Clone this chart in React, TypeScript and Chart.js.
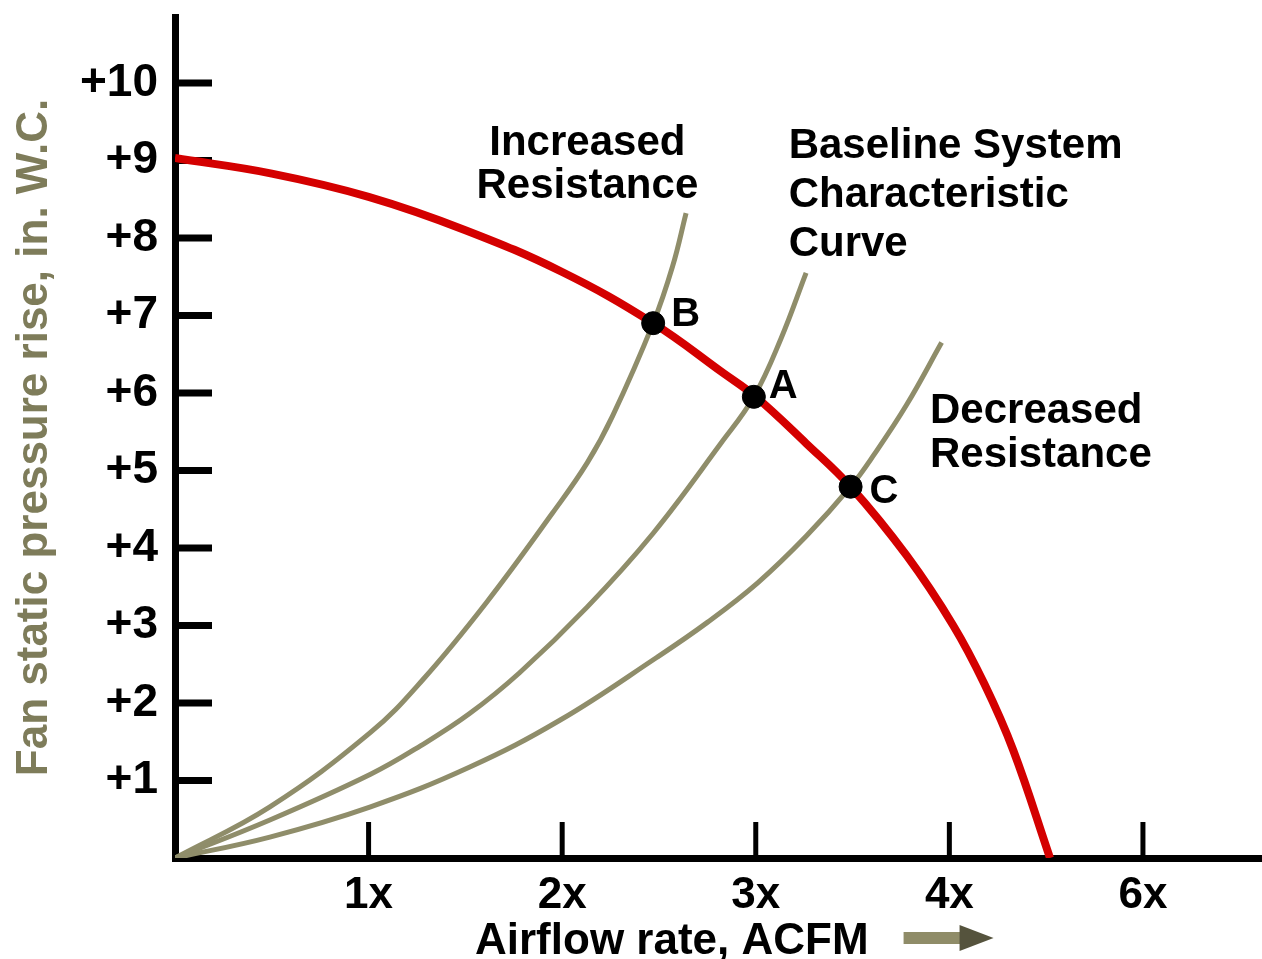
import React, { useEffect, useRef } from 'react';
import { Chart, registerables } from 'chart.js';

Chart.register(...registerables);

// ---- data ----
const xTickValues = [1, 2, 3, 4, 5];
const xTickLabels = ['1x', '2x', '3x', '4x', '6x'];
const yTickValues = [1, 2, 3, 4, 5, 6, 7, 8, 9, 10];

const fanCurveX = [0, 0.5, 1, 1.5, 2, 2.47, 2.83, 3.0, 3.26, 3.49, 3.78, 4.02, 4.18, 4.33, 4.52];
const fanCurveY = [9.03, 8.83, 8.53, 8.1, 7.56, 6.9, 6.26, 5.95, 5.35, 4.79, 3.9, 3.0, 2.25, 1.39, 0];

const increasedX = [0, 0.49, 1.01, 1.28, 1.61, 1.95, 2.13, 2.26, 2.47, 2.57, 2.64];
const increasedY = [0, 0.66, 1.62, 2.3, 3.3, 4.45, 5.1, 5.7, 6.9, 7.63, 8.32];

const baselineX = [0, 0.49, 1.01, 1.27, 1.52, 1.78, 2.13, 2.47, 2.82, 2.99, 3.13, 3.26];
const baselineY = [0, 0.49, 1.08, 1.45, 1.86, 2.39, 3.24, 4.19, 5.35, 5.95, 6.7, 7.55];

const decreasedX = [0, 0.49, 1.01, 1.52, 1.99, 2.49, 2.75, 3.01, 3.26, 3.49, 3.61, 3.78, 3.96];
const decreasedY = [0, 0.27, 0.66, 1.17, 1.78, 2.59, 3.04, 3.55, 4.15, 4.79, 5.2, 5.85, 6.65];

const pointLabels = ['B', 'A', 'C'];
const pointX = [2.47, 2.99, 3.49];
const pointY = [6.9, 5.95, 4.79];

const annotationLines = [
  ['Increased', 'Resistance'],
  ['Baseline System', 'Characteristic', 'Curve'],
  ['Decreased', 'Resistance'],
];
const annotationX = [2.13, 3.17, 3.9];
const annotationY = [9.07, 9.03, 5.61];

const yTitle = 'Fan static pressure rise, in. W.C.';
const xTitle = 'Airflow rate, ACFM';

// ---- styles ----
const FONT = "'Liberation Sans', Arial, sans-serif";
const annotationAlign: CanvasTextAlign[] = ['center', 'left', 'left'];
const annotationSpacing = [43, 49, 44];
const pointLabelOffset = [[18, 3], [15, 1], [19, 16]];
const systemColor = '#8f8d6a';

const toXY = (xs: number[], ys: number[]) => xs.map((x, i) => ({ x, y: ys[i] }));

const decorPlugin = {
  id: 'decor',
  beforeDatasetsDraw(chart: any) {
    const { ctx } = chart;
    const xs = chart.scales.x;
    const ys = chart.scales.y;
    ctx.save();
    ctx.strokeStyle = '#000';
    ctx.lineCap = 'butt';
    ctx.lineWidth = 7;
    yTickValues.forEach((v) => {
      const py = ys.getPixelForValue(v);
      ctx.beginPath();
      ctx.moveTo(xs.left, py);
      ctx.lineTo(xs.left + 37, py);
      ctx.stroke();
    });
    ctx.lineWidth = 5;
    xTickValues.forEach((v) => {
      const px = xs.getPixelForValue(v);
      ctx.beginPath();
      ctx.moveTo(px, ys.bottom);
      ctx.lineTo(px, ys.bottom - 36);
      ctx.stroke();
    });
    ctx.restore();
  },
  afterDraw(chart: any) {
    const { ctx } = chart;
    const xs = chart.scales.x;
    const ys = chart.scales.y;
    ctx.save();
    ctx.fillStyle = '#000';
    ctx.textBaseline = 'alphabetic';
    // annotations
    ctx.font = `bold 42px ${FONT}`;
    annotationLines.forEach((lines, i) => {
      const px = xs.getPixelForValue(annotationX[i]);
      const py = ys.getPixelForValue(annotationY[i]);
      ctx.textAlign = annotationAlign[i];
      lines.forEach((t, j) => ctx.fillText(t, px, py + j * annotationSpacing[i]));
    });
    // point labels
    ctx.font = `bold 40px ${FONT}`;
    ctx.textAlign = 'left';
    pointLabels.forEach((t, i) => {
      const px = xs.getPixelForValue(pointX[i]);
      const py = ys.getPixelForValue(pointY[i]);
      ctx.fillText(t, px + pointLabelOffset[i][0], py + pointLabelOffset[i][1]);
    });
    // x title + arrow
    ctx.font = `bold 44px ${FONT}`;
    ctx.textAlign = 'left';
    const tx = chart.chartArea.left + 300;
    const tyb = chart.chartArea.bottom + 96;
    ctx.fillText(xTitle, tx, tyb);
    const w = ctx.measureText(xTitle).width;
    const ax = tx + w + 35;
    const ay = tyb - 16;
    ctx.fillStyle = '#8f8c68';
    ctx.fillRect(ax, ay - 6, 62, 12);
    ctx.fillStyle = '#55533d';
    ctx.beginPath();
    ctx.moveTo(ax + 56, ay - 13);
    ctx.lineTo(ax + 90, ay);
    ctx.lineTo(ax + 56, ay + 13);
    ctx.closePath();
    ctx.fill();
    ctx.restore();
  },
};

const systemDataset = (label: string, xs: number[], ys: number[]) => ({
  label,
  data: toXY(xs, ys),
  showLine: true,
  borderColor: systemColor,
  borderWidth: 5,
  pointRadius: 0,
  tension: 0.4,
  order: 2,
});

export default function App() {
  const ref = useRef<HTMLCanvasElement>(null);
  useEffect(() => {
    document.body.style.margin = '0';
    const canvas = ref.current!;
    const chart = new Chart(canvas, {
      type: 'scatter',
      data: {
        datasets: [
          {
            label: 'Operating points',
            data: toXY(pointX, pointY),
            pointRadius: 11.5,
            pointHoverRadius: 11.5,
            pointBackgroundColor: '#000',
            pointBorderColor: '#000',
            showLine: false,
            order: 0,
          },
          {
            label: 'Fan curve',
            data: toXY(fanCurveX, fanCurveY),
            showLine: true,
            borderColor: '#d40000',
            borderWidth: 8,
            pointRadius: 0,
            tension: 0.4,
            order: 1,
          },
          systemDataset('Increased Resistance', increasedX, increasedY),
          systemDataset('Baseline System Characteristic Curve', baselineX, baselineY),
          systemDataset('Decreased Resistance', decreasedX, decreasedY),
        ],
      },
      options: {
        responsive: false,
        animation: false,
        devicePixelRatio: 1,
        layout: { autoPadding: false, padding: { top: 17, left: 0, right: 0, bottom: 0 } },
        plugins: { legend: { display: false }, tooltip: { enabled: false } },
        scales: {
          x: {
            type: 'linear',
            min: 0,
            max: 5.615,
            afterFit: (s: any) => {
              s.height = 101;
              s.paddingLeft = 0;
              s.paddingRight = 0;
            },
            afterBuildTicks: (s: any) => { s.ticks = xTickValues.map((v) => ({ value: v })); },
            grid: { display: true, drawOnChartArea: false, drawTicks: false, color: '#000', lineWidth: 5 },
            border: { display: true, color: '#000', width: 7 },
            ticks: {
              autoSkip: false,
              maxRotation: 0,
              padding: 11,
              color: '#000',
              font: { family: FONT, size: 44, weight: 'bold' },
              callback: (v: any) => {
                const i = xTickValues.indexOf(Number(v));
                return i >= 0 ? xTickLabels[i] : '';
              },
            },
          },
          y: {
            type: 'linear',
            min: 0,
            max: 10.85,
            afterFit: (s: any) => {
              s.width = 175;
              s.paddingTop = 0;
              s.paddingBottom = 0;
            },
            afterBuildTicks: (s: any) => { s.ticks = yTickValues.map((v) => ({ value: v })); },
            grid: { display: true, drawOnChartArea: false, drawTicks: false, color: '#000', lineWidth: 7 },
            border: { display: true, color: '#000', width: 7 },
            title: {
              display: true,
              text: yTitle,
              color: '#7e7c5a',
              font: { family: FONT, size: 44, weight: 'bold' },
              padding: { top: 8, bottom: 0 },
            },
            ticks: {
              autoSkip: false,
              padding: 17,
              color: '#000',
              font: { family: FONT, size: 46, weight: 'bold' },
              callback: (v: any) => '+' + v,
            },
          },
        },
      },
      plugins: [decorPlugin],
    });
    return () => chart.destroy();
  }, []);
  return (
    <div style={{ width: 1262, height: 959, overflow: 'hidden' }}>
      <canvas ref={ref} width={1262} height={959} style={{ display: 'block' }} />
    </div>
  );
}
